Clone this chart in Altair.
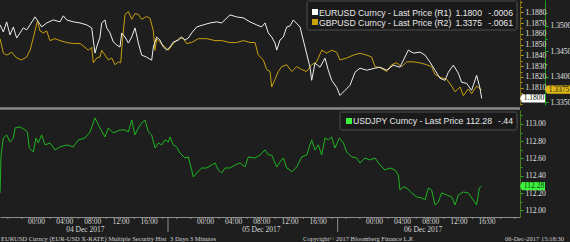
import altair as alt
import pandas as pd

# ---------------- data (hours since 04 Dec 2017 00:00, prices) ----------------
eur_hours = [-5.11,-4.64,-4.17,-3.69,-3.22,-2.75,-2.27,-1.80,-1.33,-0.85,-0.14,0.33,0.80,1.52,2.46,3.41,3.88,4.36,5.30,6.25,
             7.20,7.91,8.38,8.62,9.09,9.33,9.80,10.04,10.51,10.98,11.46,11.93,12.17,12.64,13.12,13.59,14.06,14.54,15.01,15.72,
             16.43,16.67,17.14,17.61,18.09,18.56,19.03,19.51,20.22,20.69,21.16,21.64,22.11,22.82,23.77,24.72,25.66,26.37,27.56,28.50,
             29.45,30.40,31.34,32.05,32.53,33.00,33.48,33.95,34.19,34.66,35.13,35.61,36.08,36.55,37.50,38.21,38.92,39.16,39.63,40.34,
             41.05,41.52,42.00,42.71,43.18,43.89,44.60,45.31,46.02,46.97,48.15,48.86,49.81,50.76,51.70,52.89,53.60,54.55,55.26,55.97,
             56.68,57.39,58.10,58.57,59.28,59.99,60.46,61.17,61.88,62.59,63.07,63.31]
eur_vals = [1.18683,1.18617,1.18711,1.18589,1.18664,1.18561,1.18608,1.18655,1.18636,1.18683,1.18757,1.18711,1.18664,1.18701,1.18729,1.18711,1.18767,1.18729,1.18711,1.18701,
            1.18683,1.18655,1.18421,1.18477,1.18570,1.18701,1.18729,1.18655,1.18608,1.18524,1.18496,1.18477,1.18608,1.18570,1.18514,1.18570,1.18655,1.18514,1.18402,1.18383,
            1.18355,1.18477,1.18570,1.18542,1.18477,1.18449,1.18477,1.18524,1.18542,1.18570,1.18542,1.18561,1.18608,1.18664,1.18683,1.18701,1.18711,1.18701,1.18776,1.18757,
            1.18748,1.18711,1.18683,1.18664,1.18701,1.18608,1.18570,1.18514,1.18449,1.18542,1.18570,1.18664,1.18673,1.18729,1.18664,1.18477,1.18290,1.18168,1.18327,1.18290,
            1.18374,1.18262,1.18168,1.18103,1.18028,1.18075,1.18122,1.18243,1.18281,1.18262,1.18281,1.18290,1.18262,1.18309,1.18290,1.18449,1.18421,1.18430,1.18402,1.18337,
            1.18262,1.18187,1.18168,1.18243,1.18309,1.18234,1.18150,1.18140,1.18075,1.18215,1.18094,1.18000]

gbp_hours = [-5.11,-4.64,-4.17,-3.46,-2.75,-2.04,-1.33,-0.85,-0.38,0.19,0.57,1.04,1.52,1.99,2.70,3.41,4.36,5.30,6.25,6.96,
             7.43,7.91,8.14,8.62,9.09,9.33,9.80,10.27,10.75,11.22,11.70,12.03,12.31,12.64,13.12,13.59,14.06,14.54,15.01,15.72,
             16.19,16.67,16.90,17.14,17.61,18.09,18.80,19.51,20.45,20.93,21.40,22.11,23.06,24.24,25.43,26.37,27.56,28.50,29.45,30.40,
             31.11,31.58,32.29,32.77,33.24,33.48,33.95,34.42,34.90,35.61,36.32,37.03,37.74,38.45,39.16,39.87,40.58,41.29,42.00,42.71,
             43.18,44.13,45.08,46.02,46.97,47.68,48.15,48.86,49.81,50.52,51.23,51.94,52.65,53.60,54.55,55.49,56.20,56.68,57.39,58.33,
             59.04,59.52,60.23,60.70,61.41,61.88,62.59,63.07,63.31]
gbp_vals = [1.34751,1.34466,1.34428,1.34485,1.34371,1.34333,1.34390,1.34523,1.34770,1.35093,
            1.34903,1.34865,1.34903,1.34713,1.34751,1.34713,1.34675,1.34656,1.34656,1.34580,
            1.34523,1.34580,1.34276,1.34371,1.34390,1.34523,1.34428,1.34333,1.34371,1.34238,
            1.34295,1.34276,1.34770,1.35226,1.35283,1.35131,1.35245,1.35226,1.35131,1.35188,
            1.35150,1.34903,1.34523,1.34751,1.34675,1.34618,1.34523,1.34656,1.34770,1.34751,
            1.34656,1.34675,1.34751,1.34751,1.34713,1.34713,1.34675,1.34675,1.34713,1.34675,
            1.34675,1.34428,1.34333,1.34143,1.34105,1.33801,1.33953,1.34105,1.34200,1.34238,
            1.34105,1.34200,1.34143,1.34105,1.34238,1.34295,1.34523,1.34466,1.34523,1.34485,
            1.34333,1.34371,1.34428,1.34466,1.34428,1.34390,1.34200,1.34181,1.34105,1.34238,
            1.34276,1.34200,1.34295,1.34295,1.34276,1.34238,1.34200,1.34048,1.33991,1.33953,
            1.33820,1.33706,1.33801,1.33630,1.33763,1.33668,1.33820,1.33763,1.33750]

jpy_hours = [-5.11,-4.97,-4.64,-4.17,-3.69,-3.22,-2.98,-2.27,-1.56,-1.23,-0.95,-0.38,0.00,0.33,0.80,1.28,1.99,2.70,3.41,4.36,
             5.30,6.01,6.96,7.67,8.38,9.09,9.80,10.27,10.98,11.93,12.64,13.12,13.59,14.06,14.54,15.01,15.48,15.96,16.43,16.90,
             17.38,17.85,18.32,18.80,19.03,19.51,19.98,20.45,21.16,21.64,22.11,22.35,22.82,23.53,24.24,24.95,25.43,25.90,26.37,26.85,
             27.56,28.27,28.98,29.69,30.16,31.11,31.82,32.53,33.00,33.48,34.19,34.66,35.13,35.61,36.08,36.32,37.03,37.74,38.45,39.16,
             39.63,40.10,40.58,41.05,41.52,42.00,42.47,43.09,43.66,44.13,44.84,45.55,46.02,46.73,47.44,48.15,48.86,49.57,50.28,50.99,
             51.47,51.70,52.18,52.65,53.36,54.07,54.78,55.26,55.73,56.20,56.68,57.15,57.62,58.33,59.04,59.52,59.99,60.70,61.41,62.12,
             62.59,62.97,63.31]
jpy_vals = [112.201,112.641,112.838,112.873,112.792,112.838,112.954,112.966,112.931,112.908,
            112.722,112.676,112.838,112.780,112.873,112.757,112.780,112.699,112.734,112.757,
            112.734,112.815,112.838,112.908,113.070,112.954,112.850,112.954,112.896,112.931,
            112.931,112.908,113.047,112.873,112.954,113.012,113.047,112.908,112.873,112.722,
            112.780,112.757,112.815,112.792,112.850,112.757,112.734,112.664,112.606,112.618,
            112.467,112.386,112.432,112.490,112.490,112.525,112.548,112.467,112.432,112.490,
            112.490,112.525,112.548,112.502,112.618,112.606,112.641,112.699,112.641,112.641,
            112.502,112.560,112.606,112.490,112.467,112.444,112.502,112.618,112.641,112.815,
            112.699,112.757,112.641,112.838,112.815,112.850,112.722,112.838,112.780,112.676,
            112.618,112.606,112.548,112.606,112.583,112.606,112.525,112.467,112.490,112.467,
            112.409,112.235,112.270,112.259,112.201,112.154,112.143,112.119,112.259,112.235,
            112.061,112.096,112.201,112.177,112.154,112.061,112.177,112.212,112.201,112.119,
            112.061,112.259,112.28]

eur_ticks = [1.1810, 1.1820, 1.1830, 1.1840, 1.1850, 1.1860, 1.1870, 1.1880]
eur_minor = [1.1795, 1.1800, 1.1805, 1.1810, 1.1815, 1.1820, 1.1825, 1.1830, 1.1835, 1.1840,
             1.1845, 1.1850, 1.1855, 1.1860, 1.1865, 1.1870, 1.1875, 1.1880, 1.1885, 1.1890]
gbp_ticks = [1.3350, 1.3400, 1.3450, 1.3500]
gbp_minor = [1.3375, 1.3425, 1.3475, 1.3525]
jpy_ticks = [112.0, 112.2, 112.4, 112.6, 112.8, 113.0]
jpy_minor = [111.9, 112.1, 112.3, 112.5, 112.7, 112.9, 113.1]

# time-axis labels: day of December and hour of each labelled tick
x_label_days = [4, 4, 4, 4, 4, 5, 5, 5, 5, 5, 6, 6, 6, 6, 6]
x_label_hours = [0, 4, 8, 12, 16, 0, 4, 8, 12, 16, 0, 4, 8, 12, 16]
# small unlabelled ticks (hours since 04 Dec 00:00)
x_minor_hours = [-4, -2, 2, 6, 10, 14, 18, 20, 22, 26, 30, 34, 38, 42, 44, 46, 50, 54, 58, 62, 66, 68]

legend_names = ["EURUSD Curncy - Last Price (R1)", "GBPUSD Curncy - Last Price (R2)", "USDJPY Curncy - Last Price"]
legend_last = ["1.1800", "1.3375", "112.28"]
legend_chg = ["-.0006", "-.0061", "-.44"]

date_labels = ["04 Dec 2017", "05 Dec 2017", "06 Dec 2017"]
date_label_hours = [7.0, 32.0, 55.0]
day_break_hours = [18.75, 42.85]

footer_texts = ["EURUSD Curncy (EUR-USD X-RATE) Multiple Security Hist", "3 Days 3 Minutes",
                "Copyright\u00a9 2017 Bloomberg Finance L.P.", "06-Dec-2017 15:18:30"]

# ---------------- helpers ----------------
BASE = pd.Timestamp("2017-12-04 00:00:00")


def stamps(hours):
    return [(BASE + pd.Timedelta(hours=h)).strftime("%Y-%m-%dT%H:%M:%S") for h in hours]


eur_df = pd.DataFrame({"t": stamps(eur_hours), "v": eur_vals})
gbp_df = pd.DataFrame({"t": stamps(gbp_hours), "v": gbp_vals})
jpy_df = pd.DataFrame({"t": stamps(jpy_hours), "v": jpy_vals})

BG = "#1e1e1e"
WHITE = "#eeeeee"
GOLD = "#c9a00c"
GREEN = "#1fb51f"
BRIGHT_GREEN = "#3df23d"
SERIF = "Liberation Serif"
SANS = "Liberation Sans"

TOP = [105, 0]
BOT = [217, 110]
EUR_DOM = [1.17939, 1.18914]
GBP_DOM = [1.33447, 1.35511]
JPY_DOM = [111.922, 113.162]

x_scale = alt.Scale(domain=[alt.DateTime(year=2017, month=12, date=3, hours=18, minutes=53),
                            alt.DateTime(year=2017, month=12, date=6, hours=20, minutes=45)])

x_values = [alt.DateTime(year=2017, month=12, date=d, hours=h) for d, h in zip(x_label_days, x_label_hours)]

x_axis = alt.Axis(orient="bottom", values=x_values, format="%H:%M",
                  domainColor="#8c8c8c", tickColor="#8c8c8c", tickSize=2, labelColor="#d8d8d8",
                  labelFont=SERIF, labelFontSize=7.5, labelPadding=2, labelBaseline="middle",
                  grid=False, title=None, labelOverlap=False, labelFlush=False, labelBound=False)

X = alt.X("t:T", scale=x_scale, axis=x_axis)


def ysc(dom, rng):
    return alt.Scale(domain=dom, range=rng, zero=False, nice=False)


def yaxis(values, color_dom, color_tick, offset, fmt, labels=True, size=3, domain=True):
    kw = dict(orient="right", values=values, domainColor=color_dom, tickColor=color_tick, tickSize=size,
              labelPadding=2, labelColor="#e2e2e2", labelFont=SERIF, labelFontSize=7.5, title=None,
              grid=False, offset=offset, labels=labels, domain=domain, labelFlush=False, labelOverlap=False)
    if fmt:
        kw["format"] = fmt
    return alt.Axis(**kw)


# ---------------- series lines ----------------
gbp_line = alt.Chart(gbp_df).mark_line(color=GOLD, strokeWidth=1).encode(
    x=X,
    y=alt.Y("v:Q", scale=ysc(GBP_DOM, TOP), axis=yaxis(gbp_ticks, "#1f9a1f", GREEN, 25, ".4f")))
gbp_minor_l = alt.Chart(gbp_df).mark_point(opacity=0).encode(
    x=X,
    y=alt.Y("v:Q", scale=ysc(GBP_DOM, TOP), axis=yaxis(gbp_minor, "#1f9a1f", GREEN, 25, None, labels=False, size=2, domain=False)))

eur_line = alt.Chart(eur_df).mark_line(color=WHITE, strokeWidth=1).encode(
    x=X,
    y=alt.Y("v:Q", scale=ysc(EUR_DOM, TOP), axis=yaxis(eur_ticks, "#7d6f18", GOLD, 0, ".4f")))
eur_minor_l = alt.Chart(eur_df).mark_point(opacity=0).encode(
    x=X,
    y=alt.Y("v:Q", scale=ysc(EUR_DOM, TOP), axis=yaxis(eur_minor, "#7d6f18", GOLD, 0, None, labels=False, size=2, domain=False)))

jpy_line = alt.Chart(jpy_df).mark_line(color=GREEN, strokeWidth=1).encode(
    x=X,
    y=alt.Y("v:Q", scale=ysc(JPY_DOM, BOT), axis=yaxis(jpy_ticks, "#4a7a1c", GREEN, 0, ".2f")))
jpy_minor_l = alt.Chart(jpy_df).mark_point(opacity=0).encode(
    x=X,
    y=alt.Y("v:Q", scale=ysc(JPY_DOM, BOT), axis=yaxis(jpy_minor, "#4a7a1c", GREEN, 0, None, labels=False, size=2, domain=False)))

# ---------------- last value tags ----------------
TAG = "M -1.08 0 L -0.92 -0.34 L 1 -0.34 L 1 0.34 L -0.92 0.34 Z"


def tag(val, dom, rng, fill, txtcol, xc, fmt):
    d = pd.DataFrame({"v": [val]})
    box = alt.Chart(d).mark_point(shape=TAG, size=576, filled=True, color=fill, opacity=1, strokeWidth=0).encode(
        x=alt.value(xc), y=alt.Y("v:Q", scale=ysc(dom, rng), axis=None))
    txt = alt.Chart(d).mark_text(font=SERIF, fontSize=7.5, color=txtcol, align="center", baseline="middle", dx=1).encode(
        x=alt.value(xc), y=alt.Y("v:Q", scale=ysc(dom, rng), axis=None), text=alt.Text("v:Q", format=fmt))
    return [box, txt]


tags = (tag(eur_vals[-1], EUR_DOM, TOP, "#ffffff", "#000000", 533, ".4f")
        + tag(gbp_vals[-1], GBP_DOM, TOP, "#e0b818", "#111111", 558, ".4f")
        + tag(jpy_vals[-1], JPY_DOM, BOT, BRIGHT_GREEN, "#0a3a0a", 533, ".2f"))

# ---------------- decorations ----------------
one = pd.DataFrame({"a": [0]})

divider = alt.Chart(one).mark_rule(color="#8a8a8a", strokeWidth=2.5).encode(
    x=alt.value(0), x2=alt.value(520), y=alt.value(108.5))


def legend_box(x0, x1, y0, y1):
    return alt.Chart(one).mark_rect(fill="#1a1a1a", stroke="#4e4e4e", strokeWidth=1, cornerRadius=2).encode(
        x=alt.value(x0), x2=alt.value(x1), y=alt.value(y0), y2=alt.value(y1))


def swatch(x0, y0, col):
    return alt.Chart(one).mark_rect(fill=col).encode(
        x=alt.value(x0), x2=alt.value(x0 + 6), y=alt.value(y0), y2=alt.value(y0 + 6))


def ltext(s, x, y, align="left"):
    return alt.Chart(pd.DataFrame({"s": [s]})).mark_text(
        font=SANS, fontSize=8.7, color="#e8e8e8", align=align, baseline="middle").encode(
        x=alt.value(x), y=alt.value(y), text="s:N")


legend_layers = [
    legend_box(307, 517, 1, 30), legend_box(340, 517, 112, 130),
    swatch(312, 9, "#ffffff"), swatch(312, 19, GOLD), swatch(346, 118, BRIGHT_GREEN),
    ltext(legend_names[0], 319, 12.5), ltext(legend_last[0], 482, 12.5, "right"), ltext(legend_chg[0], 513, 12.5, "right"),
    ltext(legend_names[1], 319, 22.5), ltext(legend_last[1], 482, 22.5, "right"), ltext(legend_chg[1], 513, 22.5, "right"),
    ltext(legend_names[2], 353, 121), ltext(legend_last[2], 492, 121, "right"), ltext(legend_chg[2], 513, 121, "right"),
]

minor_ticks = alt.Chart(pd.DataFrame({"t": stamps(x_minor_hours)})).mark_rule(color="#8c8c8c", strokeWidth=1).encode(
    x=X, y=alt.value(217), y2=alt.value(219))

dates = alt.Chart(pd.DataFrame({"t": stamps(date_label_hours), "s": date_labels})).mark_text(
    font=SERIF, fontSize=7.5, color="#d8d8d8", align="center", baseline="middle").encode(
    x=X, y=alt.value(229.5), text="s:N")

breaks = alt.Chart(pd.DataFrame({"t": stamps(day_break_hours)})).mark_rule(color="#8c8c8c", strokeWidth=1).encode(
    x=X, y=alt.value(217), y2=alt.value(232))

footer_x = [1, 170, 303, 505]
footer = [alt.Chart(pd.DataFrame({"s": [s]})).mark_text(
    font=SERIF, fontSize=6.5, color="#d0d0d0", align="left", baseline="middle").encode(
    x=alt.value(fx), y=alt.value(238.5), text="s:N") for s, fx in zip(footer_texts, footer_x)]

layers = [gbp_minor_l, eur_minor_l, jpy_minor_l, gbp_line, eur_line, jpy_line, divider,
          minor_ticks, breaks, dates] + legend_layers + tags + footer

chart = alt.layer(*layers).resolve_scale(y="independent").properties(
    width=520, height=217,
    autosize=alt.AutoSizeParams(type="none"),
    padding={"left": 0, "top": 0, "right": 50, "bottom": 25},
    background=BG,
).configure_view(stroke=None, fill=BG)

chart.save("out.html", embed_options={"renderer": "svg", "actions": False})
